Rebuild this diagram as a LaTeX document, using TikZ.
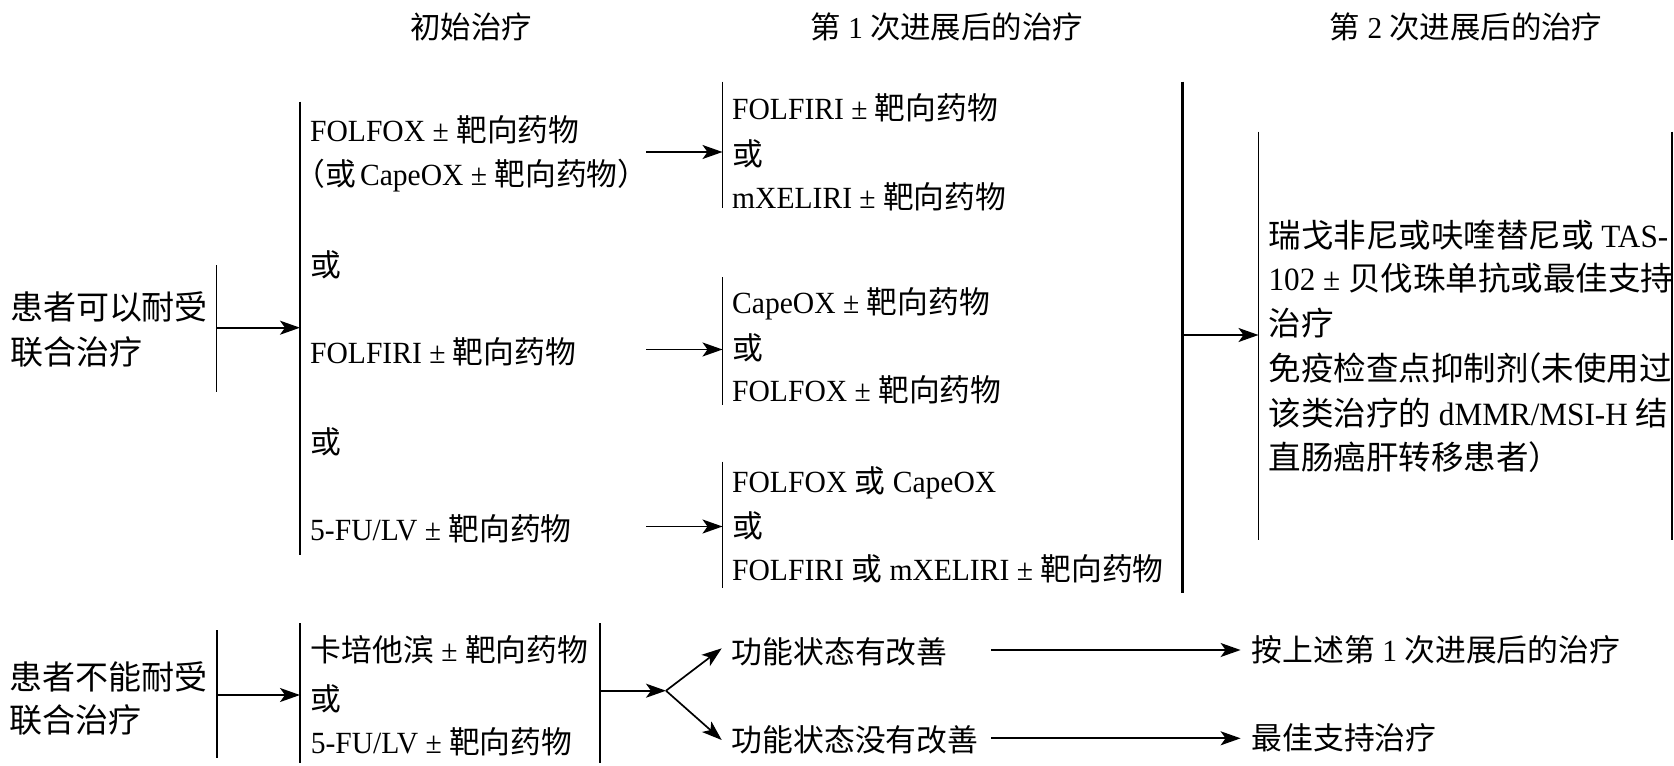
\documentclass[tikz,border=0pt]{standalone}
\usepackage{fontspec}
\setmainfont{Noto Sans CJK SC}
\newfontfamily\latfont[FakeStretch=0.96]{Liberation Serif}
\newcommand\E[1]{{\latfont #1}}
\usetikzlibrary{arrows.meta}
\tikzset{
  txt/.style={inner sep=0pt, anchor=base west, font=\fontsize{30.8}{40}\selectfont},
  bigtxt/.style={txt, font=\fontsize{33}{40}\selectfont},
  rtxt/.style={txt, font=\fontsize{32.5}{40}\selectfont},
  hdr/.style={inner sep=0pt, anchor=base, font=\fontsize{30.4}{40}\selectfont},
  bar/.style={line width=1.8pt},
  thickbar/.style={line width=2.8pt},
  arr/.style={line width=1.7pt, -{Stealth[length=20pt, width=14pt, inset=5pt]}},
}
\begin{document}
\begin{tikzpicture}[x=1pt, y=-1pt]
\path[fill=white, use as bounding box] (0,0) rectangle (1674,766);

% headers
\node[hdr] (h1) at (471,38.3) {初始治疗};
\node[hdr] (h2) at (946.8,38.3) {第\E{ 1 }次进展后的治疗};
\node[hdr] (h3) at (1466,38.3) {第\E{ 2 }次进展后的治疗};

% ---------------- top section ----------------
\node[bigtxt] (p1a) at (9.8,319.2) {患者可以耐受};
\node[bigtxt] (p1b) at (9.8,364.2) {联合治疗};

\coordinate (b0t) at (216.5,265);
\coordinate (b0b) at (216.5,391.7);
\draw[bar] (b0t) -- (b0b);
\coordinate (b1t) at (300,101.7);
\coordinate (b1b) at (300,555);
\draw[bar] (b1t) -- (b1b);
\coordinate (a0s) at (216.5,327.7);
\coordinate (a0e) at (300,327.7);
\draw[arr] (a0s) -- (a0e);

\node[txt] (c1a) at (310,141.7) {\E{FOLFOX ± }靶向药物};
\node[txt] (c1b) at (310,185) {\hspace*{-0.5em}（或\E{\hspace{0.12em}CapeOX ± }靶向药物）};
\node[txt] (c1c) at (310,276.7) {或};
\node[txt] (c1d) at (310,363.4) {\E{FOLFIRI ± }靶向药物};
\node[txt] (c1e) at (310,453.4) {或};
\node[txt] (c1f) at (310,540) {\E{5-FU/LV ± }靶向药物};

% column 2 bars
\coordinate (g1t) at (722.5,81.7);
\coordinate (g1b) at (722.5,208.3);
\coordinate (g2t) at (722.5,277);
\coordinate (g2b) at (722.5,405);
\coordinate (g3t) at (722.5,461.7);
\coordinate (g3b) at (722.5,588.3);
\draw[bar] (g1t) -- (g1b);
\draw[bar] (g2t) -- (g2b);
\draw[bar] (g3t) -- (g3b);

\coordinate (a1s) at (646,152);
\coordinate (a1e) at (722.5,152);
\coordinate (a2s) at (646,349.5);
\coordinate (a2e) at (722.5,349.5);
\coordinate (a3s) at (646,526.5);
\coordinate (a3e) at (722.5,526.5);
\draw[arr] (a1s) -- (a1e);
\draw[arr] (a2s) -- (a2e);
\draw[arr] (a3s) -- (a3e);

\node[txt] (d1a) at (732,119.2) {\E{FOLFIRI ± }靶向药物};
\node[txt] (d1b) at (732,165) {或};
\node[txt] (d1c) at (732,208.4) {\E{mXELIRI ± }靶向药物};
\node[txt] (d2a) at (732,313.4) {\E{CapeOX ± }靶向药物};
\node[txt] (d2b) at (732,359.2) {或};
\node[txt] (d2c) at (732,401.7) {\E{FOLFOX ± }靶向药物};
\node[txt] (d3a) at (732,492.4) {\E{FOLFOX }或\E{ CapeOX}};
\node[txt] (d3b) at (732,537.4) {或};
\node[txt] (d3c) at (732,580) {\E{FOLFIRI }或\E{ mXELIRI ± }靶向药物};

% big bar and right block
\coordinate (Bt) at (1182.5,81.7);
\coordinate (Bb) at (1182.5,593.3);
\draw[thickbar] (Bt) -- (Bb);
\coordinate (a4s) at (1182.5,335);
\coordinate (a4e) at (1258.5,335);
\draw[arr] (a4s) -- (a4e);
\coordinate (r1t) at (1258.5,131.7);
\coordinate (r1b) at (1258.5,540);
\coordinate (r2t) at (1671.7,131.7);
\coordinate (r2b) at (1671.7,540);
\draw[bar] (r1t) -- (r1b);
\draw[bar] (r2t) -- (r2b);

\node[rtxt] (e1) at (1268.4,247.4) {瑞戈非尼或呋喹替尼或\E{ TAS-}};
\node[rtxt] (e2) at (1268.4,290.7) {\E{102 ± }贝伐珠单抗或最佳支持};
\node[rtxt] (e3) at (1268.4,335.7) {治疗};
\node[rtxt] (e4) at (1268.4,380.7) {免疫检查点抑制剂\hspace{-0.6em}（未使用过};
\node[rtxt] (e5) at (1268.4,425.7) {该类治疗的\E{ dMMR/MSI-H }结};
\node[rtxt] (e6) at (1268.4,469.1) {直肠癌肝转移患者）};

% ---------------- bottom section ----------------
\node[bigtxt] (p2a) at (9.6,689.2) {患者不能耐受};
\node[bigtxt] (p2b) at (9.6,732.5) {联合治疗};

\coordinate (k0t) at (216.8,630);
\coordinate (k0b) at (216.8,758.3);
\draw[bar] (k0t) -- (k0b);
\coordinate (k1t) at (300,623.3);
\coordinate (k1b) at (300,763.3);
\draw[bar] (k1t) -- (k1b);
\coordinate (k2t) at (600,623.3);
\coordinate (k2b) at (600,763.3);
\draw[bar] (k2t) -- (k2b);
\coordinate (a5s) at (216.8,695);
\coordinate (a5e) at (300,695);
\draw[arr] (a5s) -- (a5e);

\node[txt] (f1) at (310.6,661.7) {卡培他滨\E{ ± }靶向药物};
\node[txt] (f2) at (310.6,710) {或};
\node[txt] (f3) at (310.6,753.4) {\E{5-FU/LV ± }靶向药物};

\coordinate (a6s) at (600,690.7);
\coordinate (fork) at (666,690.7);
\draw[arr] (a6s) -- (fork);
\coordinate (up) at (721.7,648.3);
\coordinate (dn) at (721.7,740);
\draw[arr] (fork) -- (up);
\draw[arr] (fork) -- (dn);

\node[txt] (s1) at (731.7,663.4) {功能状态有改善};
\node[txt] (s2) at (731.7,751.7) {功能状态没有改善};

\coordinate (a7s) at (991.3,650);
\coordinate (a7e) at (1240.6,650);
\coordinate (a8s) at (991.3,738.3);
\coordinate (a8e) at (1240.6,738.3);
\draw[arr] (a7s) -- (a7e);
\draw[arr] (a8s) -- (a8e);

\node[txt] (t1) at (1251.5,661.7) {按上述第\E{ 1 }次进展后的治疗};
\node[txt] (t2) at (1251.5,749.7) {最佳支持治疗};
\end{tikzpicture}
\end{document}
